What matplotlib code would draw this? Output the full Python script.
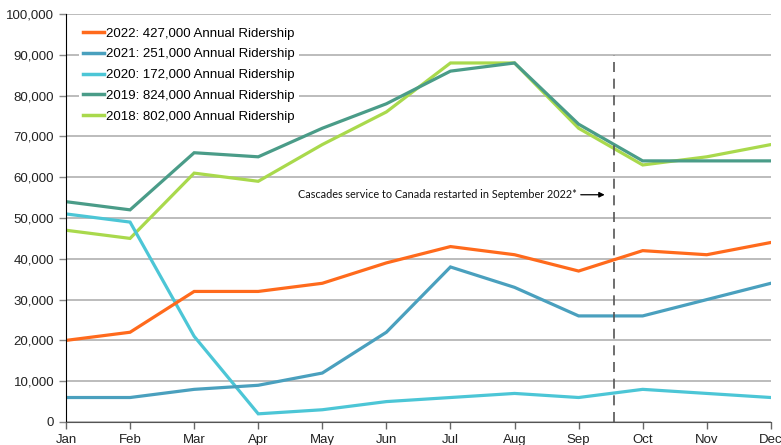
import matplotlib
matplotlib.use("Agg")
import matplotlib.pyplot as plt

months = ["Jan", "Feb", "Mar", "Apr", "May", "Jun", "Jul", "Aug", "Sep", "Oct", "Nov", "Dec"]

# monthly ridership
r2022 = [20000, 22000, 32000, 32000, 34000, 39000, 43000, 41000, 37000, 42000, 41000, 44000]
r2021 = [6000, 6000, 8000, 9000, 12000, 22000, 38000, 33000, 26000, 26000, 30000, 34000]
r2020 = [51000, 49000, 21000, 2000, 3000, 5000, 6000, 7000, 6000, 8000, 7000, 6000]
r2019 = [54000, 52000, 66000, 65000, 72000, 78000, 86000, 88000, 73000, 64000, 64000, 64000]
r2018 = [47000, 45000, 61000, 59000, 68000, 76000, 88000, 88000, 72000, 63000, 65000, 68000]

labels = ["2022: 427,000 Annual Ridership", "2021: 251,000 Annual Ridership",
          "2020: 172,000 Annual Ridership", "2019: 824,000 Annual Ridership",
          "2018: 802,000 Annual Ridership"]
colors = ["#FF6A1C", "#4AA0BE", "#4CC6D6", "#4A9C88", "#A9D94C"]

restart_pos = 8.55
note = "Cascades service to Canada restarted in September 2022*"

plt.rcParams["font.family"] = ["Liberation Sans", "DejaVu Sans"]

fig = plt.figure(figsize=(7.81, 4.45), dpi=100)
ax = fig.add_axes([0.0845, 0.0517, 0.9025, 0.9168])

x = list(range(len(months)))
series = [r2022, r2021, r2020, r2019, r2018]
# draw older years first so 2022 sits on top
for vals, col, lab in reversed(list(zip(series, colors, labels))):
    ax.plot(x, vals, color=col, lw=2.3, label=lab, solid_joinstyle="miter")

ax.set_xlim(0, 11)
ax.set_ylim(0, 100000)
ax.set_xticks(x)
ax.set_xticklabels(months)
ax.set_yticks(range(0, 100001, 10000))
ax.yaxis.set_major_formatter(matplotlib.ticker.FuncFormatter(lambda v, p: f"{int(v):,}"))
ax.tick_params(labelsize=9.5, colors="#222222", length=5, width=1)
ax.tick_params(axis="x", color="#666666")
ax.tick_params(axis="y", color="#888888")

ax.grid(axis="y", color="#b0b0b0", lw=1.2)
ax.set_axisbelow(True)
for s in ["top", "right"]:
    ax.spines[s].set_visible(False)
ax.spines["left"].set_color("black")
ax.spines["bottom"].set_color("#555555")

ax.vlines(restart_pos, 0, 90000, colors="#555555", linestyles=(0, (6, 4)), lw=1.2)
ax.annotate("", xy=(restart_pos - 0.1, 55700), xytext=(restart_pos - 0.56, 55700),
            arrowprops=dict(arrowstyle="-|>", color="black", lw=0.9, mutation_scale=8))
ax.text(restart_pos - 0.57, 55700, note, ha="right", va="center", fontsize=7.8,
        family=["Lato", "DejaVu Sans"], color="#111111")

handles, labs = ax.get_legend_handles_labels()
leg = ax.legend(handles[::-1], labs[::-1], loc="upper left", bbox_to_anchor=(0.015, 0.983),
                frameon=True, fontsize=9.5, handlelength=1.6, handletextpad=0.15,
                labelspacing=0.64, borderpad=0.3, borderaxespad=0.2)
leg.get_frame().set_edgecolor("none")
leg.get_frame().set_facecolor("white")
leg.get_frame().set_alpha(1)
for line in leg.get_lines():
    line.set_linewidth(2.5)

fig.savefig("out.png", dpi=100)
